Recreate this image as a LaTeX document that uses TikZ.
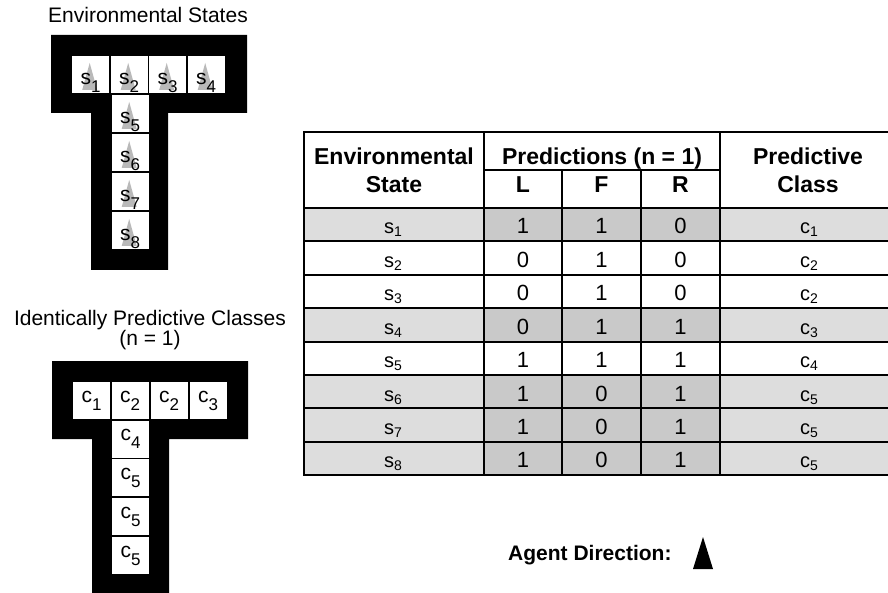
\documentclass[tikz,border=0pt]{standalone}
\usepackage{fontspec}
\setmainfont{Liberation Sans}
% lowered index digits: large ones in the maze cells, small ones in the table
\newcommand\mazesub[1]{\raisebox{-8pt}{\fontsize{17}{17}\selectfont #1}}
\newcommand\tabsub[1]{\raisebox{-3pt}{\fontsize{14}{14}\selectfont #1}}
\begin{document}
\begin{tikzpicture}[x=1pt,y=-1pt,
  mazecell/.style={fill=white, minimum width=37pt, minimum height=37pt,
    inner sep=0pt, anchor=north west},
  mazetxt/.style={font=\fontsize{21}{24}\selectfont, inner sep=0pt, anchor=base},
  title/.style={font=\fontsize{21}{24}\selectfont, inner sep=0pt, anchor=base},
  hdr/.style={font=\bfseries\fontsize{23}{26}\selectfont, inner sep=0pt, anchor=base},
  val/.style={font=\fontsize{22}{24}\selectfont, inner sep=0pt, anchor=base},
  lbl/.style={font=\fontsize{20}{22}\selectfont, inner sep=0pt, anchor=base},
  heading/.style={font=\bfseries\fontsize{21}{24}\selectfont, inner sep=0pt,
    anchor=base west},
  ghost/.style={fill=gray!55},
  shadelight/.style={fill=gray!27},
  shadedark/.style={fill=gray!42},
  rule/.style={line width=2pt},
]
\useasboundingbox (0,0) rectangle (888,593);

% ---------------- Environmental states maze ----------------
\node[title] (t1) at (148,23) {Environmental States};
\fill[black] (51,35) -- (247,35) -- (247,113) -- (168,113) -- (168,270)
  -- (91,270) -- (91,113) -- (51,113) -- cycle;
\foreach \k/\x/\y in {1/72/56, 2/110.5/56, 3/149/56, 4/187.5/56,
                      5/111.5/95, 6/111.5/134, 7/111.5/173, 8/111.5/212}{
  \node[mazecell] (s\k) at (\x,\y) {};
  \fill[ghost] ([xshift=-1pt,yshift=-7pt]s\k.north)
    -- ([xshift=6.5pt,yshift=-34pt]s\k.north)
    -- ([xshift=-8.5pt,yshift=-34pt]s\k.north) -- cycle;
  \node[mazetxt] (sl\k) at ([yshift=9pt]s\k.south) {s\mazesub{\k}};
}

% ---------------- Predictive classes maze ----------------
\node[title] (t2a) at (150,325) {Identically Predictive Classes};
\node[title] (t2b) at (150,345) {(n = 1)};
\fill[black] (52,361) -- (248,361) -- (248,439) -- (169,439) -- (169,600)
  -- (92,600) -- (92,439) -- (52,439) -- cycle;
\foreach \k/\x/\y/\c in {1/73/382/1, 2/111.5/382/2, 3/150.5/382/2, 4/189.5/382/3,
                         5/112/420.5/4, 6/112/459.2/5, 7/112/497.9/5, 8/112/536.6/5}{
  \node[mazecell] (c\k) at (\x,\y) {};
  \node[mazetxt] (cl\k) at ([yshift=17pt]c\k.south) {c\mazesub{\c}};
}

% ---------------- Prediction table ----------------
% shaded rows
\foreach \i in {1,4,6,7,8}{
  \pgfmathsetmacro\ya{208+(\i-1)*33.4}
  \pgfmathsetmacro\yb{208+\i*33.4}
  \fill[shadelight] (304,\ya) rectangle (484,\yb);
  \fill[shadedark] (484,\ya) rectangle (720,\yb);
  \fill[shadelight] (720,\ya) rectangle (896,\yb);
}
% grid
\draw[rule] (304,132) rectangle (896,475.2);
\draw[rule] (484,132) -- (484,475.2);
\draw[rule] (720,132) -- (720,475.2);
\draw[rule] (562,170) -- (562,475.2);
\draw[rule] (641,170) -- (641,475.2);
\draw[rule] (484,170) -- (720,170);
\draw[rule] (304,208) -- (896,208);
\foreach \i in {1,...,7}{
  \draw[rule] (304,208+\i*33.4) -- (896,208+\i*33.4);
}
% header
\node[hdr] (hEnv) at (394,165) {Environmental};
\node[hdr] (hState) at (394,193) {State};
\node[hdr] (hPred) at (602,165) {Predictions (n = 1)};
\node[hdr] (hL) at (523,193) {L};
\node[hdr] (hF) at (601.5,193) {F};
\node[hdr] (hR) at (680.5,193) {R};
\node[hdr] (hPc) at (808,165) {Predictive};
\node[hdr] (hCl) at (808,193) {Class};
% rows
\foreach \i/\l/\f/\r/\c in {1/1/1/0/1, 2/0/1/0/2, 3/0/1/0/2, 4/0/1/1/3,
                           5/1/1/1/4, 6/1/0/1/5, 7/1/0/1/5, 8/1/0/1/5}{
  \pgfmathsetmacro\yb{208+(\i-1)*33.4+26}
  \node[lbl] (rs\i) at (393,\yb) {s\tabsub{\i}};
  \node[val] (rl\i) at (523,\yb) {\l};
  \node[val] (rf\i) at (601.5,\yb) {\f};
  \node[val] (rr\i) at (680.5,\yb) {\r};
  \node[lbl] (rc\i) at (809,\yb) {c\tabsub{\c}};
}

% ---------------- Agent direction key ----------------
\node[heading] (agent) at (508,560) {Agent Direction:};
\fill[black] (703,537) -- (713,569) -- (693,569) -- cycle;
\end{tikzpicture}
\end{document}
